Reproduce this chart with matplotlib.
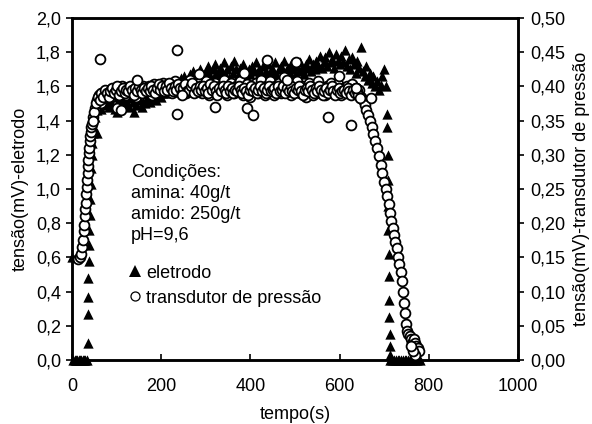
import matplotlib
matplotlib.use("Agg")
import matplotlib.pyplot as plt
from matplotlib.lines import Line2D
from matplotlib.ticker import FuncFormatter

plt.rcParams['font.family'] = ['Liberation Sans', 'DejaVu Sans']

# --- data -----------------------------------------------------------------
# common sampling instants of the plateau (s)
tempo = [48, 52, 56, 60, 64, 68, 72, 76, 80, 84,
         88, 92, 96, 100, 104, 108, 112, 116, 120, 124,
         128, 132, 136, 140, 144, 148, 152, 156, 160, 164,
         168, 172, 176, 180, 184, 188, 192, 196, 200, 204,
         208, 212, 216, 220, 224, 228, 232, 236, 240, 244,
         248, 252, 256, 260, 264, 268, 272, 276, 280, 284,
         288, 292, 296, 300, 304, 308, 312, 316, 320, 324,
         328, 332, 336, 340, 344, 348, 352, 356, 360, 364,
         368, 372, 376, 380, 384, 388, 392, 396, 400, 404,
         408, 412, 416, 420, 424, 428, 432, 436, 440, 444,
         448, 452, 456, 460, 464, 468, 472, 476, 480, 484,
         488, 492, 496, 500, 504, 508, 512, 516, 520, 524,
         528, 532, 536, 540, 544, 548, 552, 556, 560, 564,
         568, 572, 576, 580, 584, 588, 592, 596, 600, 604,
         608, 612, 616, 620, 624, 628, 632, 636, 640, 644,
         648, 652, 656, 660, 664, 668, 672, 676, 680, 684,
         688, 692, 696, 700]

# electrode signal (mV), left axis
eletrodo = [1.36, 1.42, 1.46, 1.50, 1.47, 1.52, 1.49, 1.53, 1.50, 1.48,
            1.51, 1.54, 1.47, 1.45, 1.50, 1.53, 1.49, 1.52, 1.55, 1.50,
            1.48, 1.53, 1.51, 1.45, 1.49, 1.54, 1.52, 1.48, 1.51, 1.50,
            1.53, 1.55, 1.51, 1.54, 1.57, 1.52, 1.55, 1.58, 1.54, 1.56,
            1.59, 1.56, 1.61, 1.58, 1.62, 1.60, 1.57, 1.63, 1.61, 1.65,
            1.62, 1.66, 1.60, 1.64, 1.67, 1.63, 1.69, 1.65, 1.62, 1.68,
            1.70, 1.66, 1.64, 1.69, 1.72, 1.67, 1.65, 1.70, 1.73, 1.68,
            1.66, 1.71, 1.69, 1.74, 1.67, 1.70, 1.65, 1.72, 1.68, 1.75,
            1.70, 1.66, 1.71, 1.68, 1.73, 1.69, 1.65, 1.70, 1.67, 1.72,
            1.69, 1.74, 1.66, 1.70, 1.68, 1.72, 1.65, 1.69, 1.73, 1.67,
            1.71, 1.68, 1.74, 1.66, 1.70, 1.72, 1.67, 1.75, 1.69, 1.71,
            1.68, 1.73, 1.70, 1.66, 1.72, 1.69, 1.74, 1.70, 1.67, 1.73,
            1.71, 1.76, 1.69, 1.73, 1.70, 1.75, 1.72, 1.78, 1.71, 1.74,
            1.77, 1.72, 1.80, 1.74, 1.76, 1.71, 1.79, 1.75, 1.73, 1.78,
            1.74, 1.81, 1.72, 1.76, 1.70, 1.77, 1.73, 1.68, 1.75, 1.71,
            1.83, 1.69, 1.66, 1.72, 1.64, 1.68, 1.62, 1.66, 1.60, 1.63,
            1.58, 1.61, 1.66, 1.70]

# pressure transducer signal (mV), right axis
transdutor = [0.355, 0.368, 0.380, 0.388, 0.375, 0.390, 0.383, 0.393, 0.388, 0.395,
              0.385, 0.393, 0.398, 0.388, 0.395, 0.390, 0.400, 0.393, 0.388, 0.398,
              0.395, 0.390, 0.400, 0.393, 0.385, 0.398, 0.395, 0.390, 0.400, 0.395,
              0.393, 0.400, 0.395, 0.388, 0.403, 0.398, 0.393, 0.400, 0.395, 0.405,
              0.398, 0.393, 0.403, 0.395, 0.390, 0.400, 0.408, 0.395, 0.400, 0.393,
              0.403, 0.395, 0.390, 0.400, 0.410, 0.398, 0.393, 0.403, 0.395, 0.405,
              0.398, 0.390, 0.400, 0.408, 0.395, 0.388, 0.400, 0.393, 0.405, 0.398,
              0.390, 0.400, 0.395, 0.410, 0.393, 0.388, 0.398, 0.405, 0.395, 0.390,
              0.400, 0.393, 0.408, 0.395, 0.388, 0.398, 0.403, 0.393, 0.385, 0.400,
              0.395, 0.405, 0.390, 0.398, 0.410, 0.393, 0.388, 0.400, 0.395, 0.408,
              0.393, 0.388, 0.400, 0.395, 0.405, 0.390, 0.398, 0.413, 0.393, 0.400,
              0.395, 0.388, 0.403, 0.393, 0.408, 0.398, 0.390, 0.400, 0.395, 0.385,
              0.398, 0.405, 0.393, 0.388, 0.400, 0.395, 0.408, 0.390, 0.398, 0.393,
              0.388, 0.400, 0.395, 0.405, 0.390, 0.398, 0.393, 0.403, 0.395, 0.388,
              0.398, 0.393, 0.400, 0.390, 0.395, 0.403, 0.393, 0.398, 0.390, 0.395,
              0.385, 0.380, 0.373, 0.365, 0.358, 0.350, 0.340, 0.330, 0.320, 0.310,
              0.298, 0.285, 0.273, 0.260]

# transducer readings taken between the common instants (s, mV)
tempo_trans2 = [50, 54, 58, 62, 66, 70, 74, 78, 82, 86,
                90, 94, 98, 102, 106, 110, 114, 118, 122, 126,
                130, 134, 138, 142, 146, 150, 154, 158, 162, 166,
                170, 174, 178, 182, 186, 190, 194, 198, 202, 206,
                210, 214, 218, 222, 226, 230, 234, 238, 242, 246,
                250, 254, 258, 262, 266, 270, 274, 278, 282, 286,
                290, 294, 298, 302, 306, 310, 314, 318, 322, 326,
                330, 334, 338, 342, 346, 350, 354, 358, 362, 366,
                370, 374, 378, 382, 386, 390, 394, 398, 402, 406,
                410, 414, 418, 422, 426, 430, 434, 438, 442, 446,
                450, 454, 458, 462, 466, 470, 474, 478, 482, 486,
                490, 494, 498, 502, 506, 510, 514, 518, 522, 526,
                530, 534, 538, 542, 546, 550, 554, 558, 562, 566,
                570, 574, 578, 582, 586, 590, 594, 598, 602, 606,
                610, 614, 618, 622, 626, 630, 634, 638, 642, 646]
transdutor2 = [0.362, 0.375, 0.385, 0.380, 0.390, 0.385, 0.395, 0.390, 0.385, 0.393,
               0.398, 0.390, 0.395, 0.400, 0.388, 0.393, 0.398, 0.390, 0.395, 0.393,
               0.400, 0.395, 0.388, 0.398, 0.393, 0.400, 0.395, 0.390, 0.398, 0.393,
               0.398, 0.393, 0.400, 0.395, 0.390, 0.398, 0.403, 0.395, 0.400, 0.393,
               0.400, 0.395, 0.405, 0.398, 0.393, 0.400, 0.395, 0.403, 0.398, 0.390,
               0.398, 0.403, 0.393, 0.395, 0.400, 0.405, 0.390, 0.398, 0.393, 0.400,
               0.395, 0.400, 0.393, 0.398, 0.390, 0.403, 0.395, 0.400, 0.393, 0.388,
               0.398, 0.393, 0.400, 0.395, 0.390, 0.400, 0.393, 0.398, 0.390, 0.395,
               0.393, 0.400, 0.395, 0.390, 0.398, 0.393, 0.388, 0.395, 0.400, 0.393,
               0.398, 0.390, 0.395, 0.400, 0.393, 0.398, 0.390, 0.395, 0.400, 0.393,
               0.395, 0.398, 0.390, 0.400, 0.393, 0.395, 0.400, 0.390, 0.398, 0.393,
               0.400, 0.393, 0.390, 0.398, 0.395, 0.400, 0.393, 0.388, 0.395, 0.398,
               0.393, 0.400, 0.395, 0.390, 0.398, 0.393, 0.400, 0.395, 0.388, 0.393,
               0.398, 0.390, 0.395, 0.400, 0.393, 0.388, 0.395, 0.398, 0.390, 0.393,
               0.395, 0.390, 0.398, 0.393, 0.388, 0.395, 0.390, 0.393, 0.388, 0.383]

# electrode: start, jump and drop
t_elet_ini = [0, 3, 6, 9, 12, 15, 18, 21, 24, 27, 30, 33, 35, 35, 36, 37, 38, 38,
              39, 40, 41, 42, 43, 44, 45, 46, 56]
elet_ini = [0.60, 0.0, 0.0, 0.0, 0.0, 0.0, 0.0, 0.0, 0.0, 0.0, 0.0, 0.0, 0.10, 0.27,
            0.37, 0.48, 0.58, 0.67, 0.76, 0.85, 0.94, 1.03, 1.12, 1.20, 1.27, 1.33, 1.33]
t_elet_fim = [704, 706, 707, 708, 708, 709, 709, 710, 710, 711, 711, 712, 712, 713,
              714, 718, 722, 726, 730, 734, 738, 742, 746, 750, 754, 758, 762, 768,
              774, 780]
elet_fim = [1.60, 1.44, 1.36, 1.20, 1.05, 0.90, 0.76, 0.62, 0.49, 0.35, 0.25, 0.15,
            0.08, 0.03, 0.0, 0.0, 0.0, 0.0, 0.0, 0.0, 0.0, 0.0, 0.0, 0.0, 0.0, 0.0,
            0.0, 0.0, 0.0, 0.0]

# transducer: rise, fall and scattered readings
t_trans_ini = [14, 18, 21, 23, 25, 27, 28, 29, 30, 31, 32, 33, 34, 35, 36, 37, 38,
               39, 40, 41, 42, 43, 44, 46]
trans_ini = [0.148, 0.150, 0.155, 0.165, 0.175, 0.188, 0.198, 0.210, 0.220, 0.230,
             0.243, 0.253, 0.263, 0.273, 0.283, 0.293, 0.303, 0.310, 0.320, 0.328,
             0.333, 0.340, 0.345, 0.350]
t_trans_fim = [704, 707, 710, 713, 716, 719, 722, 725, 728, 731, 734, 737, 740, 742,
               744, 746, 748, 751, 754, 757, 760, 763, 766, 769, 772, 775, 778, 770,
               765, 760]
trans_fim = [0.250, 0.240, 0.228, 0.215, 0.203, 0.193, 0.183, 0.173, 0.163, 0.150,
             0.140, 0.128, 0.115, 0.100, 0.083, 0.068, 0.053, 0.043, 0.038, 0.035,
             0.030, 0.025, 0.030, 0.025, 0.020, 0.018, 0.013, 0.008, 0.013, 0.020]
t_trans_disp = [63, 100, 110, 146, 235, 235, 246, 284, 321, 385, 393, 405, 438, 483,
                503, 573, 598, 625, 636, 670]
trans_disp = [0.440, 0.368, 0.365, 0.410, 0.453, 0.360, 0.388, 0.418, 0.370, 0.420,
              0.368, 0.358, 0.438, 0.410, 0.435, 0.355, 0.415, 0.343, 0.398, 0.383]

# --- figure ---------------------------------------------------------------
fig = plt.figure(figsize=(5.92, 4.24), dpi=100)
ax = fig.add_axes([0.1216, 0.151, 0.7534, 0.8066])
ax2 = ax.twinx()

tri = dict(marker='^', s=55, color='black', linewidths=0, zorder=3)
circ = dict(marker='o', s=50, facecolors='white', edgecolors='black', linewidths=1.3,
            zorder=3)

ax.scatter(tempo, eletrodo, clip_on=False, **tri)
ax.scatter(t_elet_ini, elet_ini, clip_on=False, **tri)
ax.scatter(t_elet_fim, elet_fim, clip_on=False, **tri)

ax2.scatter(tempo, transdutor, clip_on=False, **circ)
ax2.scatter(tempo_trans2, transdutor2, clip_on=False, **circ)
ax2.scatter(t_trans_ini, trans_ini, clip_on=False, **circ)
ax2.scatter(t_trans_fim, trans_fim, clip_on=False, **circ)
ax2.scatter(t_trans_disp, trans_disp, clip_on=False, **circ)

ax.set_xlim(0, 1000)
ax.set_ylim(0, 2.0)
ax2.set_ylim(0, 0.5)
ax.set_xticks([0, 200, 400, 600, 800, 1000])
ax.set_yticks([0.0, 0.2, 0.4, 0.6, 0.8, 1.0, 1.2, 1.4, 1.6, 1.8, 2.0])
ax2.set_yticks([0.0, 0.05, 0.10, 0.15, 0.20, 0.25, 0.30, 0.35, 0.40, 0.45, 0.50])
ax.yaxis.set_major_formatter(FuncFormatter(lambda v, p: f"{v:.1f}".replace('.', ',')))
ax2.yaxis.set_major_formatter(FuncFormatter(lambda v, p: f"{v:.2f}".replace('.', ',')))

fs = 13
ax.tick_params(axis='y', direction='out', length=4, width=1.2, labelsize=fs, pad=4)
ax.tick_params(axis='x', direction='in', length=4, width=1.2, labelsize=fs, pad=13)
ax2.tick_params(axis='y', direction='out', length=4, width=1.2, labelsize=fs, pad=5)
for a in (ax, ax2):
    for sp in a.spines.values():
        sp.set_linewidth(1.8)

ax.set_xlabel('tempo(s)', fontsize=fs, labelpad=8)
ax.set_ylabel('tensão(mV)-eletrodo', fontsize=fs, labelpad=5)
ax2.set_ylabel('tensão(mV)-transdutor de pressão', fontsize=fs, labelpad=5)

ax.text(0.132, 0.572, 'Condições:\namina: 40g/t\namido: 250g/t\npH=9,6',
        transform=ax.transAxes, fontsize=fs, va='top', ha='left', linespacing=1.3)

leg_handles = [
    Line2D([], [], linestyle='none', marker='^', markersize=8, color='black',
           markeredgewidth=0),
    Line2D([], [], linestyle='none', marker='o', markersize=6.5,
           markerfacecolor='white', markeredgecolor='black', markeredgewidth=0.9),
]
ax.legend(leg_handles, ['eletrodo', 'transdutor de pressão'], loc='upper left',
          bbox_to_anchor=(0.112, 0.30), frameon=False, fontsize=fs,
          handlelength=0.6, handletextpad=0.35, labelspacing=0.45, borderaxespad=0)

fig.savefig('out.png', dpi=100)
